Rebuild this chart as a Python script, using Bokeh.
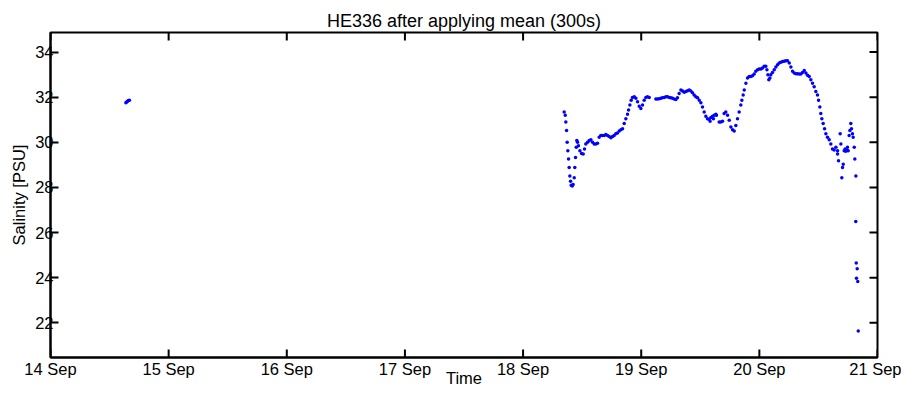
import math
from bokeh.plotting import figure
from bokeh.models import FixedTicker, Range1d
from bokeh.embed import file_html
from bokeh.resources import INLINE

title_text = "HE336 after applying mean (300s)"
x_label = "Time"
y_label = "Salinity [PSU]"
x_ticks = [14, 15, 16, 17, 18, 19, 20, 21]
x_tick_labels = ["14 Sep", "15 Sep", "16 Sep", "17 Sep", "18 Sep", "19 Sep", "20 Sep", "21 Sep"]
y_ticks = [22, 24, 26, 28, 30, 32, 34]
x_min, x_max = 14, 21
y_min, y_max = 20.46, 34.87

# time as decimal day of September, salinity in PSU
early_day = [14.638, 14.645, 14.652, 14.660, 14.668]
early_sal = [31.76, 31.79, 31.82, 31.85, 31.87]

day = [
    18.348, 18.357, 18.362, 18.368, 18.373, 18.379, 18.385, 18.390, 18.396, 18.402,
    18.407, 18.416, 18.424, 18.433, 18.438, 18.444, 18.450, 18.455, 18.461, 18.469,
    18.481, 18.495, 18.509, 18.520, 18.531, 18.546, 18.560, 18.574, 18.588, 18.602,
    18.616, 18.630, 18.644, 18.658, 18.672, 18.687, 18.701, 18.715, 18.729, 18.743,
    18.757, 18.771, 18.785, 18.799, 18.814, 18.828, 18.842, 18.856, 18.870, 18.884,
    18.893, 18.904, 18.915, 18.926, 18.941, 18.955, 18.969, 18.983, 18.997, 19.011,
    19.025, 19.039, 19.053, 19.068,
    19.124, 19.138, 19.152, 19.166, 19.180, 19.195, 19.209, 19.223, 19.237, 19.251,
    19.265, 19.279, 19.293, 19.307, 19.321, 19.336, 19.350, 19.364, 19.378, 19.392,
    19.406, 19.420, 19.434, 19.448, 19.462, 19.477, 19.491, 19.505, 19.519, 19.533,
    19.547, 19.561, 19.575, 19.583, 19.590, 19.604, 19.611, 19.618, 19.632, 19.637,
    19.660, 19.674, 19.688, 19.702, 19.716, 19.731, 19.745, 19.759, 19.773, 19.787,
    19.801, 19.815, 19.829, 19.843, 19.852, 19.863, 19.872, 19.886, 19.900, 19.914,
    19.928, 19.942, 19.956, 19.970, 19.985, 19.999, 20.013, 20.027, 20.041, 20.055,
    20.064, 20.072, 20.080, 20.089, 20.097, 20.111, 20.126, 20.140, 20.154, 20.168,
    20.182, 20.196, 20.210, 20.224, 20.238, 20.253, 20.267, 20.281, 20.295, 20.309,
    20.323, 20.337, 20.351, 20.365, 20.380, 20.394, 20.408, 20.422, 20.436, 20.450,
    20.464, 20.478, 20.492, 20.501, 20.512, 20.520, 20.529, 20.540, 20.552, 20.563,
    20.577, 20.591, 20.605, 20.619, 20.633, 20.648, 20.662,
    20.662, 20.670, 20.684, 20.690, 20.698, 20.704, 20.710, 20.718, 20.726, 20.732,
    20.738, 20.746, 20.752, 20.760, 20.766, 20.774, 20.780, 20.788, 20.794, 20.803,
    20.808, 20.817,
    20.816, 20.820, 20.822, 20.828, 20.833, 20.837,
]
sal = [
    31.35, 31.20, 30.90, 30.53, 30.00, 29.63, 29.26, 28.88, 28.51, 28.28,
    28.10, 28.06, 28.13, 28.43, 28.88, 29.33, 29.78, 30.08, 30.00, 29.85,
    29.63, 29.51, 29.48, 29.70, 29.93, 30.00, 30.08, 30.11, 30.00, 29.93,
    29.93, 29.96, 30.23, 30.30, 30.30, 30.30, 30.35, 30.30, 30.26, 30.20,
    30.26, 30.30, 30.38, 30.41, 30.50, 30.56, 30.60, 30.83, 31.05, 31.25,
    31.43, 31.65, 31.87, 31.99, 32.02, 31.95, 31.80, 31.60, 31.50, 31.65,
    31.87, 31.99, 32.02, 31.99,
    31.92, 31.92, 31.93, 31.95, 31.98, 31.99, 32.02, 32.02, 31.99, 31.98,
    31.95, 31.92, 31.90, 31.98, 32.17, 32.32, 32.28, 32.22, 32.25, 32.29,
    32.32, 32.28, 32.20, 32.10, 32.02, 31.98, 31.87, 31.75, 31.57, 31.35,
    31.16, 31.05, 31.01, 30.93, 31.10, 31.16, 31.05, 31.20, 31.25, 31.20,
    30.90, 30.90, 30.93, 31.28, 31.35, 31.20, 30.98, 30.68, 30.56, 30.50,
    30.75, 31.05, 31.35, 31.65, 31.87, 32.10, 32.32, 32.62, 32.85, 32.92,
    32.92, 32.95, 33.03, 33.15, 33.22, 33.25, 33.25, 33.30, 33.37, 33.37,
    33.22, 33.00, 32.77, 32.85, 33.00, 33.10, 33.22, 33.34, 33.44, 33.52,
    33.55, 33.58, 33.59, 33.62, 33.62, 33.52, 33.34, 33.15, 33.07, 33.04,
    33.04, 33.03, 33.03, 33.10, 33.19, 33.07, 32.97, 32.92, 32.77, 32.62,
    32.47, 32.25, 32.10, 31.87, 31.57, 31.28, 31.05, 30.83, 30.60, 30.38,
    30.23, 30.11, 29.93, 29.70, 29.66, 29.78, 29.63,
    29.48, 29.18, 30.38, 29.93, 28.43, 28.88, 29.03, 29.63, 29.70, 29.60,
    29.66, 29.78, 29.63, 30.30, 30.53, 30.83, 30.60, 30.38, 30.23, 29.78,
    29.26, 28.51,
    26.49, 24.65, 23.97, 24.40, 23.83, 21.63,
]

FONT = "Liberation Sans"
FS = "16.5px"

p = figure(width=901, height=389, output_backend="svg", toolbar_location=None,
           x_range=Range1d(x_min, x_max), y_range=Range1d(y_min, y_max),
           min_border_left=50, min_border_right=24, min_border_top=32, min_border_bottom=10,
           title=title_text)
p.background_fill_color = "white"
p.border_fill_color = "white"
p.xgrid.visible = False
p.ygrid.visible = False
p.outline_line_color = "black"
p.outline_line_width = 2

p.title.text_font = FONT
p.title.text_font_style = "normal"
p.title.text_font_size = "18px"
p.title.text_color = "black"
p.title.align = "center"
p.title.standoff = 4

def style(ax, tick_in):
    ax.axis_line_width = 2
    ax.axis_line_color = "black"
    ax.major_tick_in = tick_in
    ax.major_tick_out = 0
    ax.major_tick_line_width = 2
    ax.major_tick_line_color = "black"
    ax.minor_tick_line_color = None
    ax.major_label_text_font = FONT
    ax.major_label_text_font_size = FS
    ax.major_label_text_color = "black"
    ax.axis_label_text_font = FONT
    ax.axis_label_text_font_size = FS
    ax.axis_label_text_font_style = "normal"
    ax.axis_label_text_color = "black"

xax = p.xaxis[0]
xax.ticker = FixedTicker(ticks=x_ticks)
xax.major_label_overrides = {t: l for t, l in zip(x_ticks, x_tick_labels)}
xax.axis_label = x_label
xax.major_label_standoff = 2
xax.axis_label_standoff = -12
style(xax, 0)

yax = p.yaxis[0]
yax.ticker = FixedTicker(ticks=y_ticks)
yax.axis_label = y_label
yax.major_label_standoff = -3
yax.axis_label_standoff = 4
style(yax, 8)

# inward ticks on the bottom, top and right box edges
p.ray(x=x_ticks, y=[y_min] * len(x_ticks), length=8, length_units="screen",
      angle=math.pi / 2, line_color="black", line_width=2)
p.ray(x=x_ticks, y=[y_max] * len(x_ticks), length=8, length_units="screen",
      angle=-math.pi / 2, line_color="black", line_width=2)
p.ray(x=[x_max] * len(y_ticks), y=y_ticks, length=8, length_units="screen",
      angle=math.pi, line_color="black", line_width=2)

p.scatter(early_day, early_sal, marker="circle", size=3.5, color="#0000ff", line_width=0)
p.scatter(day, sal, marker="circle", size=3.5, color="#0000ff", line_width=0)

open("out.html", "w").write(file_html(p, INLINE))
